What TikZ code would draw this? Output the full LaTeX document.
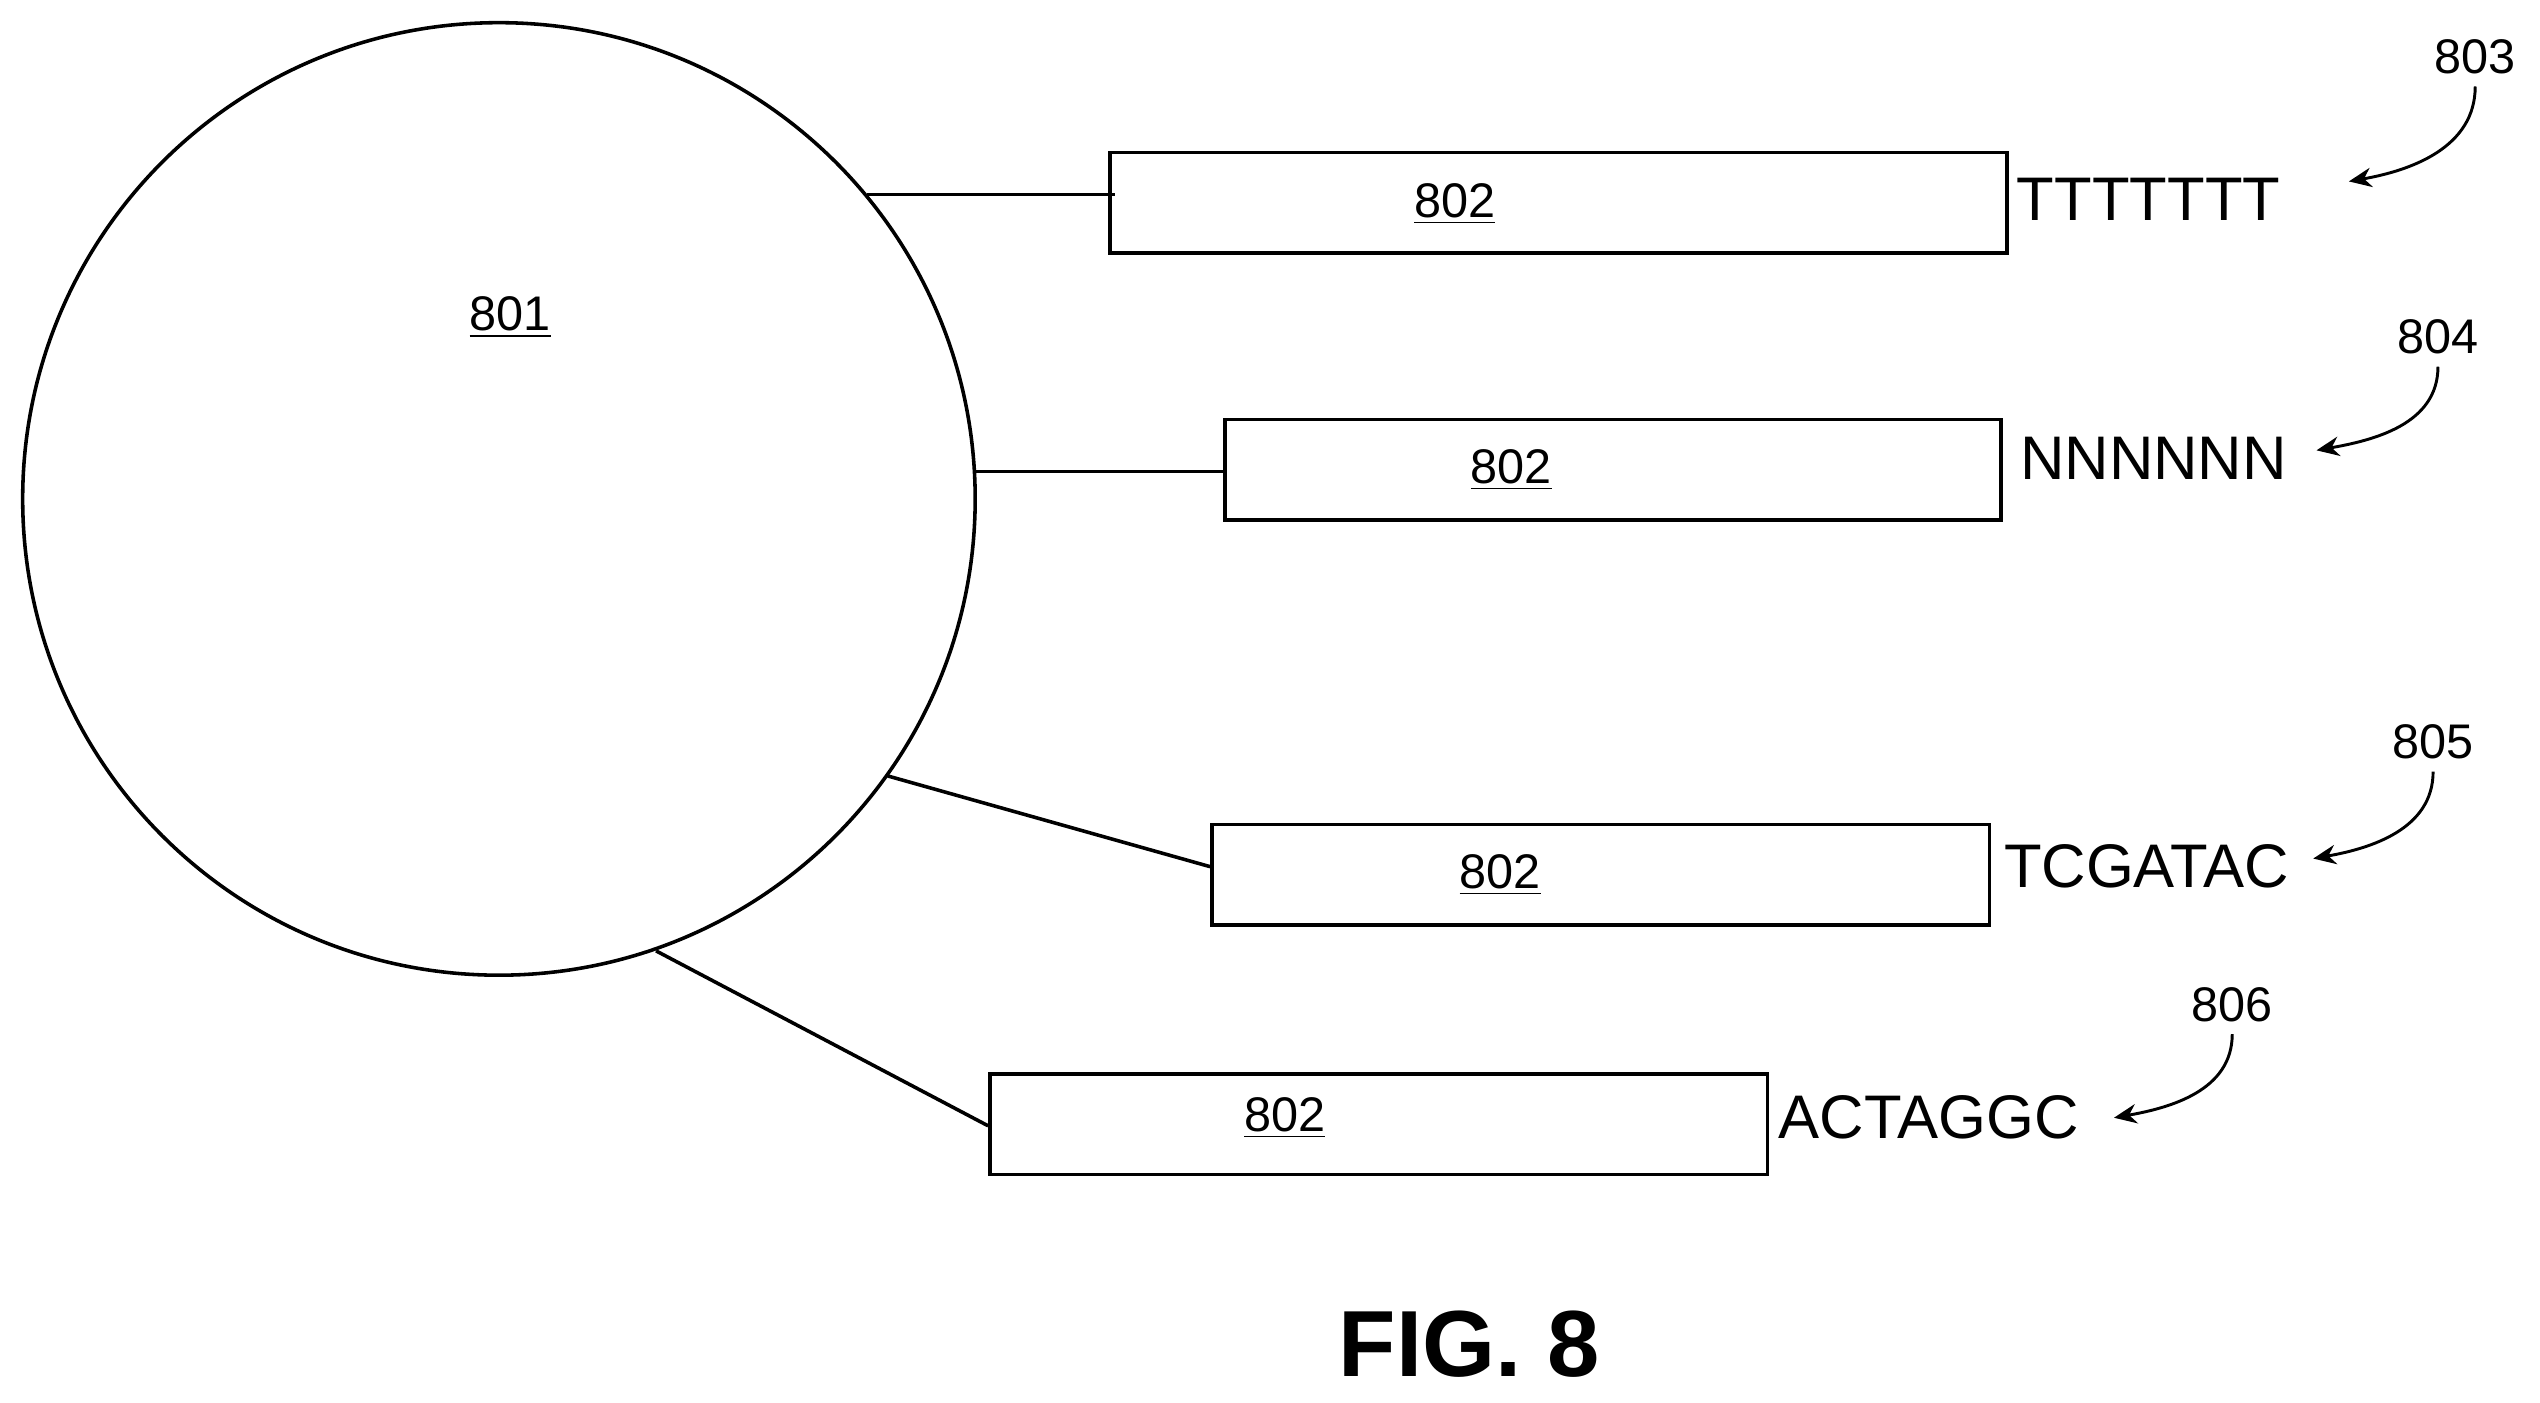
\documentclass[tikz,border=0pt]{standalone}
\usepackage{fontspec}
\setmainfont{Liberation Sans}
\usetikzlibrary{arrows.meta}
\begin{document}
\begin{tikzpicture}[x=0.5pt,y=-0.5pt,line width=1.1pt,
  box/.style={draw,minimum width=#1*0.5pt,minimum height=31pt,inner sep=0pt,anchor=north west},
  lab/.style={font=\fontsize{15}{15}\selectfont},
  seq/.style={font=\fontsize{19}{19}\selectfont,anchor=west,inner sep=0pt},
  ref/.style={font=\fontsize{15}{15}\selectfont},
  cur/.style={-{Stealth[length=7pt,width=6pt]},line width=0.9pt}]
\useasboundingbox (0,0) rectangle (1568,866);
\node[circle,draw,minimum size=294pt,inner sep=0pt] (c) at (308,308) {};
\node[lab] (l801) at (315,196) {\underline{801}};
\node[box=554] (b1) at (684,93) {};
\node[box=479] (b2) at (755,258) {};
\node[box=480] (b3) at (747,508) {};
\node[box=480] (b4) at (610,662) {};
\node[lab] at (898,126) {\underline{802}};
\node[lab] at (933,290) {\underline{802}};
\node[lab] at (926,540) {\underline{802}};
\node[lab] at (793,690) {\underline{802}};
\coordinate (c1) at (535,120); \coordinate (e1) at (688,120);
\coordinate (c2) at (602,291); \coordinate (e2) at (755,291);
\coordinate (c3) at (548,479); \coordinate (e3) at (747,535);
\coordinate (c4) at (405,587); \coordinate (e4) at (610,695);
\draw (c1)--(e1); \draw (c2)--(e2); \draw (c3)--(e3); \draw (c4)--(e4);
\node[seq] (s1) at (1244,123) {TTTTTTT};
\node[seq] (s2) at (1246,283) {NNNNNN};
\node[seq] (s3) at (1236,535) {TCGATAC};
\node[seq] (s4) at (1097,690) {ACTAGGC};
\node[ref] (r3) at (1528,35) {803};
\node[ref] (r4) at (1505,208) {804};
\node[ref] (r5) at (1502,458) {805};
\node[ref] (r6) at (1378,620) {806};
\coordinate (a3) at (1450,112); \coordinate (a4) at (1430,278);
\coordinate (a5) at (1428,530); \coordinate (a6) at (1305,690);
\draw[cur] (r3.south) to[out=-90,in=10] (a3);
\draw[cur] (r4.south) to[out=-90,in=10] (a4);
\draw[cur] (r5.south) to[out=-90,in=10] (a5);
\draw[cur] (r6.south) to[out=-90,in=10] (a6);
\node[font=\fontsize{29}{29}\selectfont\bfseries] (fig) at (907,830) {FIG. 8};
\end{tikzpicture}
\end{document}
